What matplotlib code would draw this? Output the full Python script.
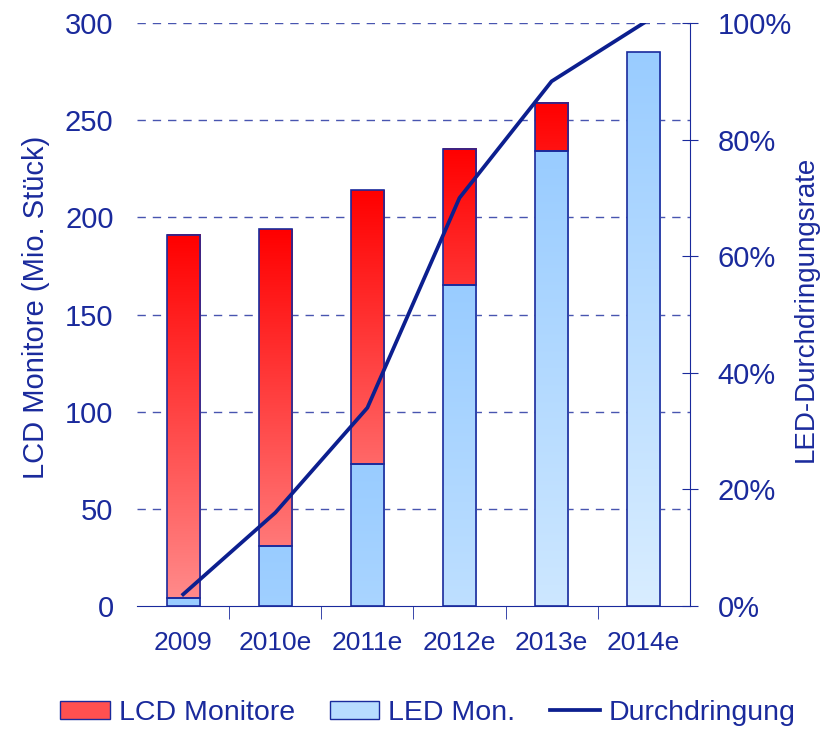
import matplotlib.pyplot as plt
import numpy as np
from matplotlib.patches import Patch
from matplotlib.lines import Line2D
from matplotlib.colors import LinearSegmentedColormap

plt.rcParams['font.family'] = ['Liberation Sans', 'DejaVu Sans']

years = ['2009', '2010e', '2011e', '2012e', '2013e', '2014e']
led_units = [4, 31, 73, 165, 234, 285]
total_units = [191, 194, 214, 235, 259, 285]
penetration = [0.02, 0.16, 0.34, 0.70, 0.90, 1.00]

navy = '#1a2a9c'
line_col = '#0c1f8f'

red_top, red_bot = np.array([1.0, 0.0, 0.0]), np.array([1.0, 0.55, 0.55])
blue_top, blue_bot = np.array([0.60, 0.80, 1.0]), np.array([0.85, 0.93, 1.0])


def gradient_bar(ax, x, y0, y1, width, c_top, c_bot, full):
    # colour fades from c_top to c_bot over 'full' data units
    frac = (y1 - y0) / full
    cb = c_top + (c_bot - c_top) * min(frac, 1.0)
    cmap = LinearSegmentedColormap.from_list('g', [cb, c_top])
    grad = np.linspace(0, 1, 256).reshape(-1, 1)
    ax.imshow(grad, cmap=cmap, origin='lower', aspect='auto',
              extent=(x - width / 2, x + width / 2, y0, y1), zorder=2)
    ax.add_patch(plt.Rectangle((x - width / 2, y0), width, y1 - y0,
                               fill=False, edgecolor=navy, lw=1.2, zorder=3))


fig = plt.figure(figsize=(8.31, 7.31), dpi=100)
ax = fig.add_axes([0.165, 0.171, 0.665, 0.7975])

w = 0.36
for i in range(len(years)):
    gradient_bar(ax, i, 0, led_units[i], w, blue_top, blue_bot, 285)
    if total_units[i] > led_units[i]:
        gradient_bar(ax, i, led_units[i], total_units[i], w, red_top, red_bot, 190)

ax.set_xlim(-0.5, len(years) - 0.5)
ax.set_ylim(0, 300)
ax.set_yticks(range(0, 301, 50))
for yv in range(50, 301, 50):
    ax.axhline(yv, color=navy, lw=1, ls=(0, (6, 5)), alpha=0.8, zorder=1)

ax.set_xticks(range(len(years)))
ax.set_xticklabels(years)
ax.set_xticks(np.arange(0.5, len(years) - 0.5, 1), minor=True)
ax.tick_params(axis='x', which='major', length=0, pad=18, labelsize=19, colors=navy)
ax.tick_params(axis='x', which='minor', length=9, direction='out', color=navy)
ax.tick_params(axis='y', length=0, pad=17, labelsize=21, colors=navy)
for s in ['left', 'top', 'right']:
    ax.spines[s].set_visible(False)
ax.spines['bottom'].set_color(navy)
ax.set_ylabel('LCD Monitore (Mio. Stück)', fontsize=21, color=navy)
ax.yaxis.set_label_coords(-0.157, 0.513)

ax2 = ax.twinx()
ax2.plot(range(len(years)), penetration, color=line_col, lw=2.7, zorder=5)
ax2.set_ylim(0, 1)
ax2.set_yticks(np.arange(0, 1.01, 0.2))
ax2.set_yticklabels([f'{int(round(v * 100))}%' for v in np.arange(0, 1.01, 0.2)])
ax2.tick_params(axis='y', direction='inout', length=12, color=navy, labelsize=21,
                colors=navy, pad=14)
for s in ['left', 'top', 'bottom']:
    ax2.spines[s].set_visible(False)
ax2.spines['right'].set_color(navy)
ax2.set_ylabel('LED-Durchdringungsrate', fontsize=20, color=navy)
ax2.yaxis.set_label_coords(1.186, 0.51)

handles = [Patch(facecolor='#ff5050', edgecolor=navy, label='LCD Monitore'),
           Patch(facecolor='#b8dcff', edgecolor=navy, label='LED Mon.'),
           Line2D([], [], color=line_col, lw=2.7, label='Durchdringung')]
leg = fig.legend(handles=handles, loc='center', bbox_to_anchor=(0.515, 0.025),
                 ncol=3, frameon=False, fontsize=20.5, handlelength=1.75,
                 handleheight=0.6, columnspacing=1.2, handletextpad=0.32)
for t in leg.get_texts():
    t.set_color(navy)

fig.savefig('out.png', dpi=100)
